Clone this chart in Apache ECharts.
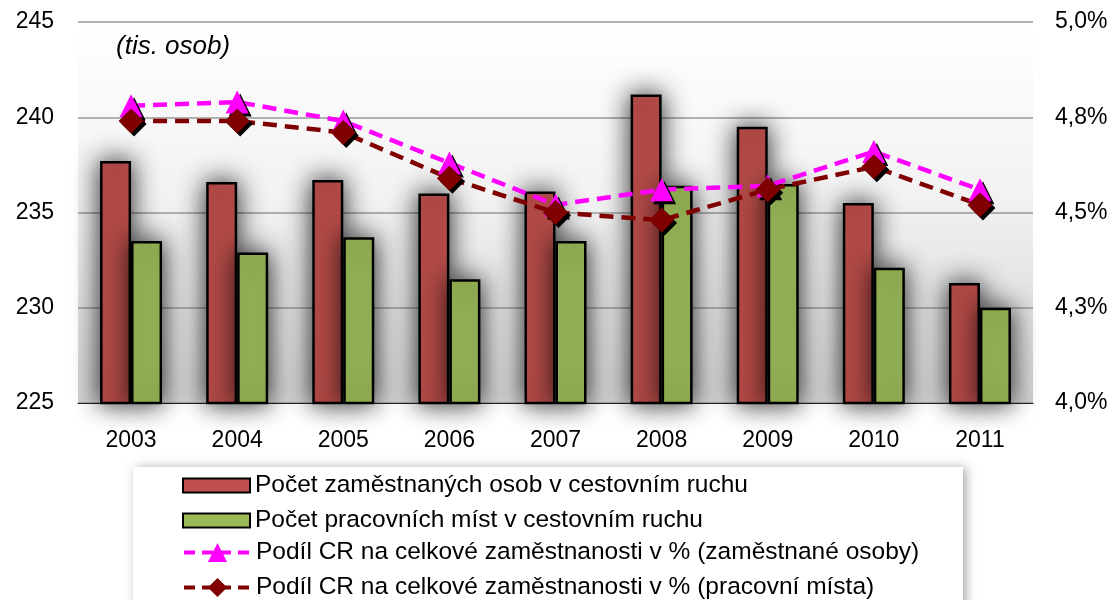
<!DOCTYPE html>
<html>
<head>
<meta charset="utf-8">
<script src="https://cdn.jsdelivr.net/npm/echarts@6/dist/echarts.min.js"></script>
<style>
  html, body { margin: 0; padding: 0; background: #fff; }
  #main { width: 1114px; height: 600px; }
</style>
</head>
<body>
<div id="main"></div>
<script>
// roky
const years = ['2003', '2004', '2005', '2006', '2007', '2008', '2009', '2010', '2011']
// tis. osob
const employedPersons = [237.7, 236.6, 236.7, 236.0, 236.1, 241.2, 239.5, 235.5, 231.3]
const jobPositions = [233.5, 232.9, 233.7, 231.5, 233.5, 236.4, 236.5, 232.1, 230.0]
// podíl v %
const shareEmployed = [4.78, 4.79, 4.74, 4.63, 4.52, 4.56, 4.57, 4.66, 4.56]
const shareJobs = [4.74, 4.74, 4.71, 4.59, 4.50, 4.48, 4.56, 4.62, 4.52]
const leftTicks = ['225', '230', '235', '240', '245']
const rightTicks = ['4,0%', '4,3%', '4,5%', '4,8%', '5,0%']

const seriesNames = [
  'Počet zaměstnaných osob v cestovním ruchu',
  'Počet pracovních míst v cestovním ruchu',
  'Podíl CR na celkové zaměstnanosti v % (zaměstnané osoby)',
  'Podíl CR na celkové zaměstnanosti v % (pracovní místa)'
]

const font = 'Liberation Sans, Arial, sans-serif'
const myGraph = echarts.init(document.getElementById('main'))

const barStyle = function (color) {
  return {
    color: color,
    borderColor: '#000',
    borderWidth: 2.5,
    shadowColor: 'rgba(0,0,0,0.85)',
    shadowBlur: 26
  }
}

const legendText = { fontFamily: font, fontSize: 24.5, color: '#000', lineHeight: 24 }
// no glow on legend icons
const legendItem = { shadowBlur: 0, shadowOffsetX: 0, shadowOffsetY: 0, shadowColor: 'transparent' }

myGraph.setOption({
  animation: false,
  title: {
    text: '(tis. osob)',
    left: 111,
    top: 29,
    textStyle: { fontFamily: font, fontSize: 26, fontStyle: 'italic', fontWeight: 'normal', color: '#000' }
  },
  // legend frame
  graphic: [{
    type: 'rect',
    left: 133,
    top: 467,
    z: 0,
    shape: { width: 830, height: 160 },
    style: {
      fill: '#fff',
      shadowColor: 'rgba(0,0,0,0.35)',
      shadowBlur: 10,
      shadowOffsetX: 3,
      shadowOffsetY: 1
    }
  }],
  grid: {
    left: 78,
    right: 81,
    top: 22,
    bottom: 197,
    show: true,
    borderWidth: 0,
    backgroundColor: new echarts.graphic.LinearGradient(0, 0, 0, 1, [
      { offset: 0, color: '#ffffff' },
      { offset: 0.45, color: '#f2f2f2' },
      { offset: 1, color: '#d2d2d2' }
    ])
  },
  legend: [
    {
      orient: 'vertical',
      left: 182,
      top: 473,
      height: 200,
      padding: 0,
      itemGap: 10,
      itemWidth: 67,
      itemHeight: 14,
      itemStyle: legendItem,
      textStyle: legendText,
      data: [
        { name: seriesNames[0], icon: 'rect' },
        { name: seriesNames[1], icon: 'rect' }
      ]
    },
    {
      orient: 'vertical',
      left: 182,
      top: 540,
      height: 200,
      padding: 0,
      itemGap: 10,
      itemWidth: 67,
      itemHeight: 24,
      itemStyle: legendItem,
      lineStyle: { width: 4, type: [11, 7] },
      textStyle: legendText,
      data: [seriesNames[2], seriesNames[3]]
    }
  ],
  xAxis: {
    type: 'category',
    data: years,
    axisLine: { lineStyle: { color: '#222', width: 1 } },
    axisTick: { length: 8, lineStyle: { color: '#444' } },
    axisLabel: { fontFamily: font, fontSize: 23, color: '#000', margin: 26 }
  },
  yAxis: [
    {
      type: 'value',
      min: 225,
      max: 245,
      interval: 5,
      axisLine: { show: false },
      axisTick: { show: false },
      splitLine: { lineStyle: { color: '#999', width: 1.5 } },
      axisLabel: {
        fontFamily: font,
        fontSize: 23,
        color: '#000',
        margin: 24,
        formatter: function (v) {
          return leftTicks[Math.round((v - 225) / 5)]
        }
      }
    },
    {
      type: 'value',
      min: 4,
      max: 5,
      interval: 0.25,
      axisLine: { show: false },
      axisTick: { show: false },
      splitLine: { show: false },
      axisLabel: {
        fontFamily: font,
        fontSize: 23,
        color: '#000',
        margin: 22,
        formatter: function (v) {
          return rightTicks[Math.round((v - 4) / 0.25)]
        }
      }
    }
  ],
  series: [
    {
      name: seriesNames[0],
      type: 'bar',
      data: employedPersons,
      barWidth: 31,
      barGap: '0%',
      itemStyle: barStyle('#C0504D')
    },
    {
      name: seriesNames[1],
      type: 'bar',
      data: jobPositions,
      barWidth: 31,
      barGap: '0%',
      itemStyle: barStyle('#9BBB59')
    },
    {
      name: seriesNames[2],
      type: 'line',
      yAxisIndex: 1,
      data: shareEmployed,
      symbol: 'triangle',
      symbolSize: [23, 23],
      lineStyle: { color: '#FF00FF', width: 4.5, type: [14, 8] },
      itemStyle: {
        color: '#FF00FF',
        shadowColor: '#000',
        shadowOffsetX: 3,
        shadowOffsetY: 3
      }
    },
    {
      name: seriesNames[3],
      type: 'line',
      yAxisIndex: 1,
      data: shareJobs,
      symbol: 'diamond',
      symbolSize: [25, 25],
      lineStyle: { color: '#800000', width: 4.5, type: [14, 8] },
      itemStyle: {
        color: '#800000',
        shadowColor: '#000',
        shadowOffsetX: 3,
        shadowOffsetY: 3
      }
    }
  ]
})
</script>
</body>
</html>
